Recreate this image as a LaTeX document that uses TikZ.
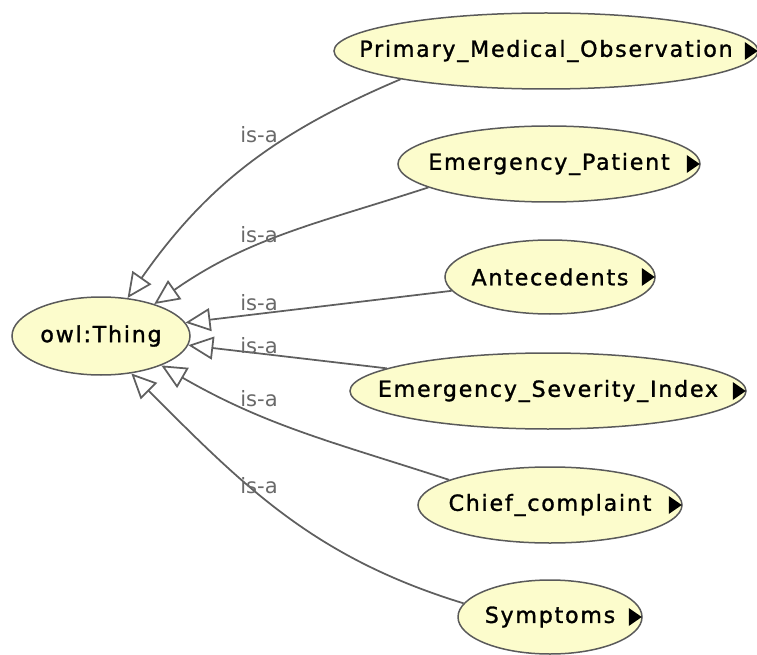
\documentclass[tikz,border=0pt]{standalone}
\usepackage{fontspec}
\newfontfamily\classfont{DejaVu Sans}[LetterSpace=8,FakeBold=1.3]
\newfontfamily\edgefont{DejaVu Sans}
\usetikzlibrary{shapes.geometric,arrows.meta}
\newcommand{\pxu}{0.02cm}
\newcommand{\clsname}[1]{\makebox[0pt]{#1}}
\tikzset{
  owlclass/.style={ellipse, draw=r90g90b90, line width=0.03cm, fill=r252g252b204,
    inner sep=0pt, font=\classfont\fontsize{12.6}{15}\selectfont},
  isa/.style={draw=r95g95b95, line width=0.035cm,
    -{Triangle[fill=white, length=0.5cm, width=0.46cm]}},
  isalabel/.style={text=r105g105b105, font=\edgefont\fontsize{12}{14}\selectfont},
}
\begin{document}
\begin{tikzpicture}[x=\pxu,y=\pxu]
\useasboundingbox (0,0) rectangle (757,-655);

% Changing colors
\definecolor{r252g252b204}{RGB}{252,252,204}%
\definecolor{r90g90b90}{RGB}{90,90,90}%
\definecolor{r95g95b95}{RGB}{95,95,95}%
\definecolor{r105g105b105}{RGB}{105,105,105}%

% Marking class owl:Thing
\node[owlclass, minimum width=178*\pxu, minimum height=78*\pxu] (thing) at (101,-336) {\clsname{owl:Thing}};

% Marking subclasses
\node[owlclass, minimum width=424*\pxu, minimum height=76*\pxu] (pmo) at (546,-51) {\clsname{Primary\_Medical\_Observation}};
\node[owlclass, minimum width=302*\pxu, minimum height=76*\pxu] (patient) at (549,-164) {\clsname{Emergency\_Patient}};
\node[owlclass, minimum width=210*\pxu, minimum height=74*\pxu] (antecedents) at (550,-277) {\clsname{Antecedents}};
\node[owlclass, minimum width=396*\pxu, minimum height=76*\pxu] (esi) at (548,-391) {\clsname{Emergency\_Severity\_Index}};
\node[owlclass, minimum width=264*\pxu, minimum height=76*\pxu] (complaint) at (550,-505) {\clsname{Chief\_complaint}};
\node[owlclass, minimum width=184*\pxu, minimum height=74*\pxu] (symptoms) at (550,-617) {\clsname{Symptoms}};

% Marking the black expand triangles
\foreach \n in {pmo,patient,antecedents,esi,complaint,symptoms}
  \fill ([xshift=-1*\pxu]\n.east) -- ++(-13,9) -- ++(0,-18) -- cycle;

% Drawing is-a lines
\draw[isa] (pmo.191) to[out=203,in=55] (thing.55);
\draw[isa] (patient.191) to[out=198,in=35] (thing.31);
\draw[isa] (antecedents.188) -- (thing.9);
\draw[isa] (esi.172) -- (thing.-6);
\draw[isa] (complaint.166) to[out=162,in=330] (thing.-26);
\draw[isa] (symptoms.171) to[out=163,in=315] (thing.-51);

% Marking is-a labels
\foreach \y in {135,235,303,346,399,486}
  \node[isalabel] (isa\y) at (259,-\y) {is-a};
\end{tikzpicture}
\end{document}
